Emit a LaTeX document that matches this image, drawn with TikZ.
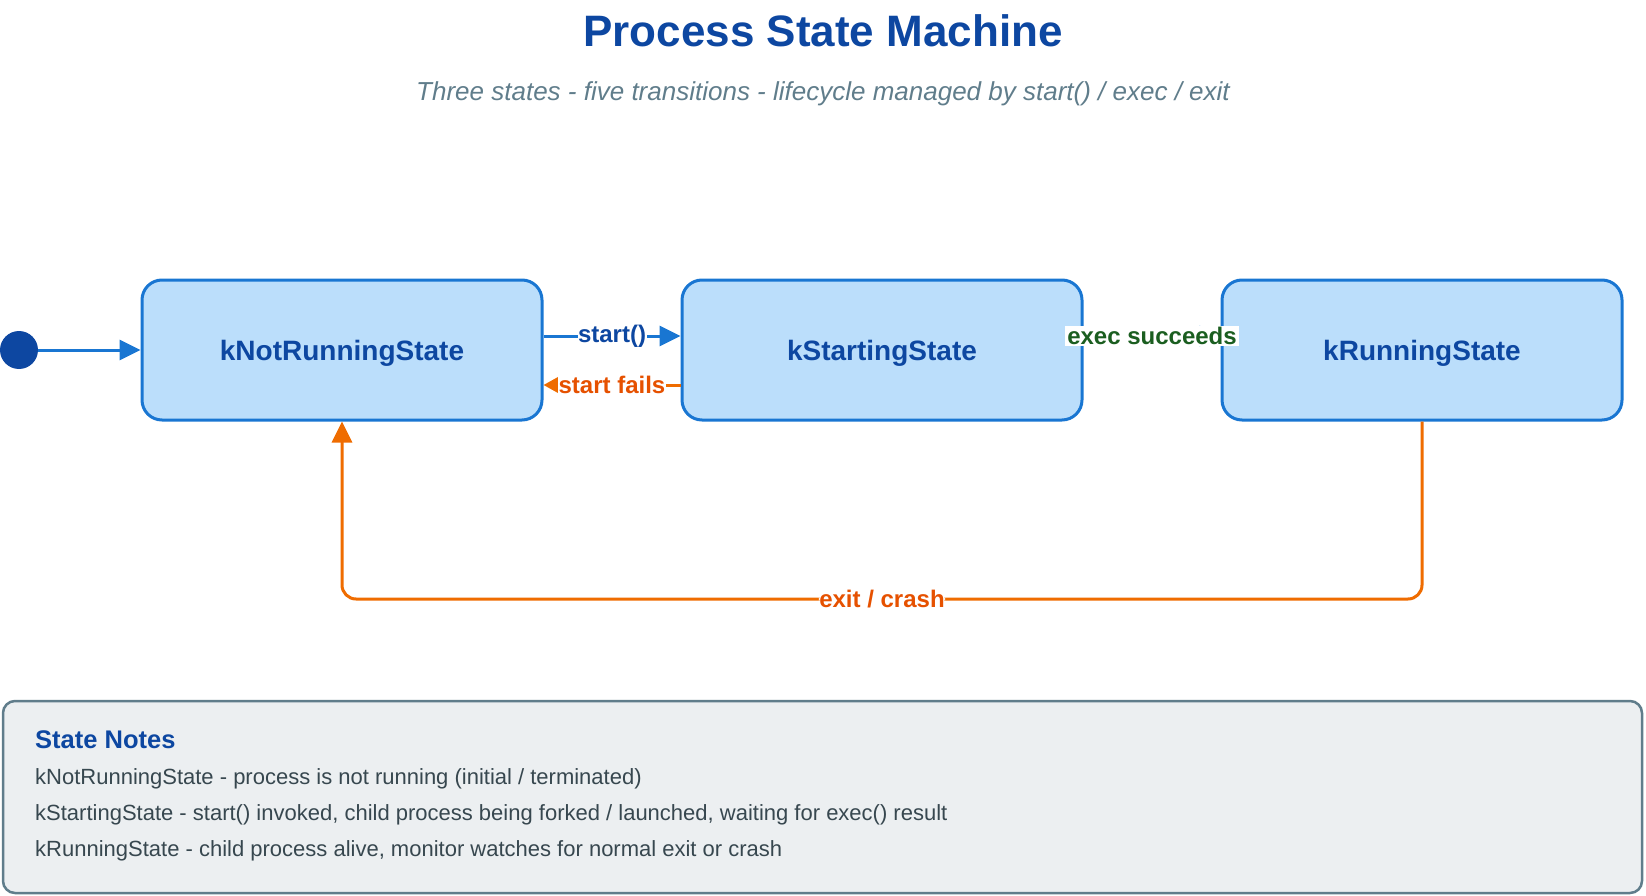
\documentclass[tikz,border=0pt]{standalone}
\usepackage{fontspec}
\setmainfont{Liberation Sans}
\usetikzlibrary{arrows.meta}

\definecolor{stfill}{HTML}{BBDEFB}
\definecolor{stline}{HTML}{1976D2}
\definecolor{sttext}{HTML}{0D47A1}
\definecolor{failline}{HTML}{EF6C00}
\definecolor{failtext}{HTML}{E65100}
\definecolor{oktext}{HTML}{1B5E20}
\definecolor{subgray}{HTML}{607D8B}
\definecolor{notefill}{HTML}{ECEFF1}
\definecolor{notetext}{HTML}{37474F}

\tikzset{
  state/.style={draw=stline, fill=stfill, line width=3pt, rounded corners=20pt,
    minimum width=400pt, minimum height=140pt, inner sep=0pt, text depth=0pt,
    text=sttext, font=\fontsize{28}{32}\selectfont\bfseries},
  trans/.style={line width=3pt, -{Triangle[length=21pt,width=20pt]}},
  smalltip/.style={-{Triangle[length=17pt,width=18pt]}},
  lbl/.style={fill=white, inner xsep=0.5pt, inner ysep=1.5pt, font=\fontsize{24}{28}\selectfont\bfseries},
  noteline/.style={anchor=west, inner sep=0pt, text=notetext, font=\fontsize{22}{26}\selectfont}
}

\begin{document}
\begin{tikzpicture}[x=1pt,y=-1pt]
  \useasboundingbox (0,0) rectangle (1646,896);

  % title
  \node (title) at (823,31) [text=sttext, font=\fontsize{44}{50}\selectfont\bfseries] {Process State Machine};
  \node (subtitle) at (823,94) [text=subgray, font=\fontsize{26}{30}\selectfont\itshape]
    {Three states - five transitions - lifecycle managed by start() / exec / exit};

  % states
  \node[state] (nr) at (342,350) {kNotRunningState};
  \node[state] (ks) at (882,350) {kStartingState};
  \node[state] (kr) at (1422,350) {kRunningState};

  \node[circle, fill=sttext, minimum size=38pt, inner sep=0pt] (init) at (19,350) {};

  % transitions
  \draw[trans, stline] (init) -- (nr);
  \draw[trans, stline] ([yshift=14pt]nr.east) -- node[lbl, text=sttext] {start()} ([yshift=14pt]ks.west);
  \draw[trans, smalltip, failline] ([yshift=-35pt]ks.west) -- node[lbl, text=failtext] {start fails} ([yshift=-35pt]nr.east);
  \draw[trans, stline] ([yshift=14pt]ks.east) -- node[lbl, inner xsep=2pt, text=oktext] {exec succeeds} ([yshift=14pt]kr.west);

  \coordinate (crashR) at (1422,599);
  \coordinate (crashL) at (342,599);
  \draw[trans, failline, rounded corners=14pt] (kr.south) -- (crashR)
    -- node[lbl, text=failtext] {exit / crash} (crashL) -- (nr.south);

  % notes
  \draw[draw=subgray, fill=notefill, line width=2.5pt, rounded corners=12pt] (3,701) rectangle (1642,893);
  \node[anchor=west, inner sep=0pt, text=sttext, font=\fontsize{25.5}{30}\selectfont\bfseries] (notehead) at (35,740) {State Notes};
  \node[noteline] (note1) at (35,779) {kNotRunningState - process is not running (initial / terminated)};
  \node[noteline] (note2) at (35,815) {kStartingState - start() invoked, child process being forked / launched, waiting for exec() result};
  \node[noteline] (note3) at (35,851) {kRunningState - child process alive, monitor watches for normal exit or crash};
\end{tikzpicture}
\end{document}
